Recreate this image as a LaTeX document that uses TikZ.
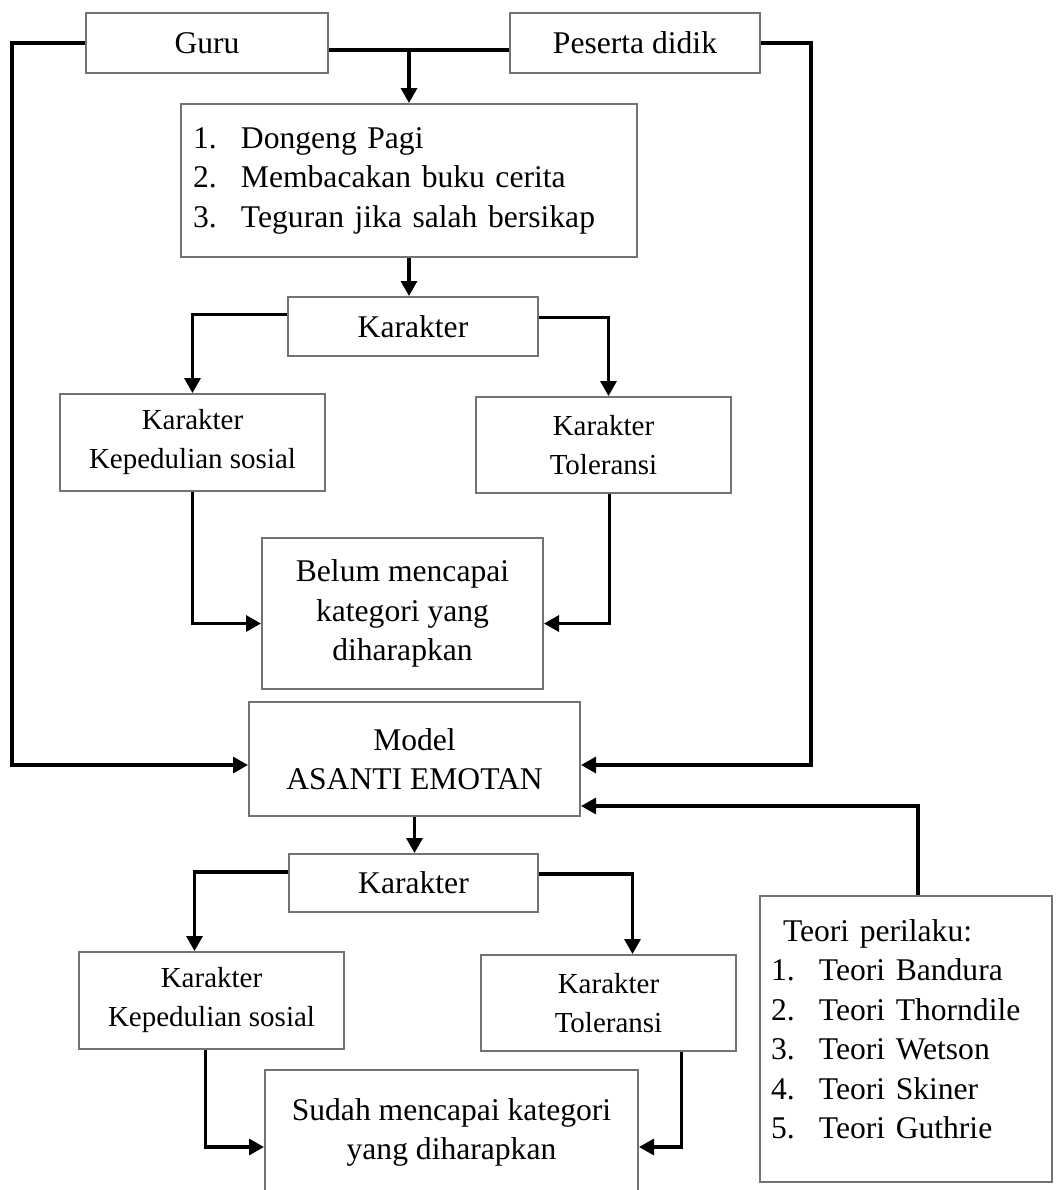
\documentclass[tikz,border=0pt]{standalone}
\usepackage{fontspec}
\setmainfont{Liberation Serif}
\usetikzlibrary{arrows.meta,calc}
\newcommand{\besar}{\fontsize{15.8}{19.75}\selectfont}
\newcommand{\kecil}{\fontsize{14.5}{19.5}\selectfont}
\newcommand{\butir}[1]{\makebox[24pt][l]{#1}}
\tikzset{
    kotak/.style={draw=black!55, line width=1pt, inner sep=0pt, align=center, font=\besar},
    daftar/.style={kotak, align=left},
    garis/.style={line width=1.6pt},
    panah/.style={garis, -{Triangle[length=7.5pt,width=8pt]}},
}
\begin{document}
\begin{tikzpicture}[x=0.5pt, y=-0.5pt]
    \useasboundingbox (0,0) rectangle (1058,1190);
    \clip (0,0) rectangle (1058,1190);
    \node[kotak, minimum width=121pt, minimum height=30pt] (guru) at (207,43) {Guru};
    \node[kotak, minimum width=125pt, minimum height=30pt] (peserta) at (635,43) {Peserta didik};
    \node[daftar, text width=216pt, inner xsep=6pt, minimum height=76.5pt] (kegiatan) at (409,180.5)
        {\butir{1.}Dongeng Pagi\\ \butir{2.}Membacakan buku cerita\\ \butir{3.}Teguran jika salah bersikap};
    \node[kotak, minimum width=125pt, minimum height=29.5pt] (karakterA) at (413,326.5) {Karakter};
    \node[kotak, font=\kecil, minimum width=132.5pt, minimum height=48.5pt] (pedulisA) at (192.5,442.5) {Karakter\\Kepedulian sosial};
    \node[kotak, font=\kecil, minimum width=127.5pt, minimum height=48pt] (toleransiA) at (603.5,445) {Karakter\\Toleransi};
    \node[kotak, minimum width=140.5pt, minimum height=75.5pt] (belum) at (402.5,613.5) {Belum mencapai\\kategori yang\\diharapkan};
    \node[kotak, minimum width=165.5pt, minimum height=57pt] (model) at (414.5,759) {Model\\ASANTI EMOTAN};
    \node[kotak, minimum width=124.5pt, minimum height=29pt] (karakterB) at (413.5,883) {Karakter};
    \node[kotak, font=\kecil, minimum width=132.5pt, minimum height=48.5pt] (pedulisB) at (211.5,1000.5) {Karakter\\Kepedulian sosial};
    \node[kotak, font=\kecil, minimum width=127.5pt, minimum height=48pt] (toleransiB) at (608.5,1003) {Karakter\\Toleransi};
    \node[kotak, minimum width=186.5pt, minimum height=62.5pt] (sudah) at (451.5,1132.5) {Sudah mencapai kategori\\yang diharapkan};
    \node[daftar, text width=135pt, inner xsep=5.5pt, minimum height=143pt] (teori) at (906,1039)
        {\hspace*{6pt}Teori perilaku:\\ \butir{1.}Teori Bandura\\ \butir{2.}Teori Thorndile\\ \butir{3.}Teori Wetson\\
         \butir{4.}Teori Skiner\\ \butir{5.}Teori Guthrie\\[-10pt] \mbox{}};

    \draw[panah] (guru.west) -- ++(-73,0) |- ($(model.west)+(0,6)$);
    \draw[panah] (peserta.east) -- ++(50,0) |- ($(model.east)+(0,6)$);
    \draw[garis] ($(guru.east)+(0,7)$) -- ($(peserta.west)+(0,7)$);
    \coordinate (temu) at ($(kegiatan.north |- guru.east)+(0,7)$);
    \draw[panah] (temu) -- (kegiatan.north);
    \draw[panah] (kegiatan.south) -- (kegiatan.south |- karakterA.north);
    \draw[panah] ($(karakterA.west)+(0,-12)$) -| (pedulisA.north);
    \draw[panah] ($(karakterA.east)+(0,-9)$) -| ($(toleransiA.north)+(5,0)$);
    \draw[panah] (pedulisA.south) |- ($(belum.west)+(0,10)$);
    \draw[panah] ($(toleransiA.south)+(6,0)$) |- ($(belum.east)+(0,10)$);
    \draw[panah] (model.south) -- (model.south |- karakterB.north);
    \draw[panah] ($(karakterB.west)+(0,-11)$) -| ($(pedulisB.north)+(-17,0)$);
    \draw[panah] ($(karakterB.east)+(0,-9)$) -| ($(toleransiB.north)+(24,0)$);
    \draw[panah] ($(pedulisB.south)+(-6,0)$) |- ($(sudah.west)+(0,14.5)$);
    \draw[panah] ($(toleransiB.south)+(73,0)$) |- ($(sudah.east)+(0,14.5)$);
    \draw[panah] ($(teori.north)+(12,0)$) |- ($(model.east)+(0,47)$);
\end{tikzpicture}
\end{document}
